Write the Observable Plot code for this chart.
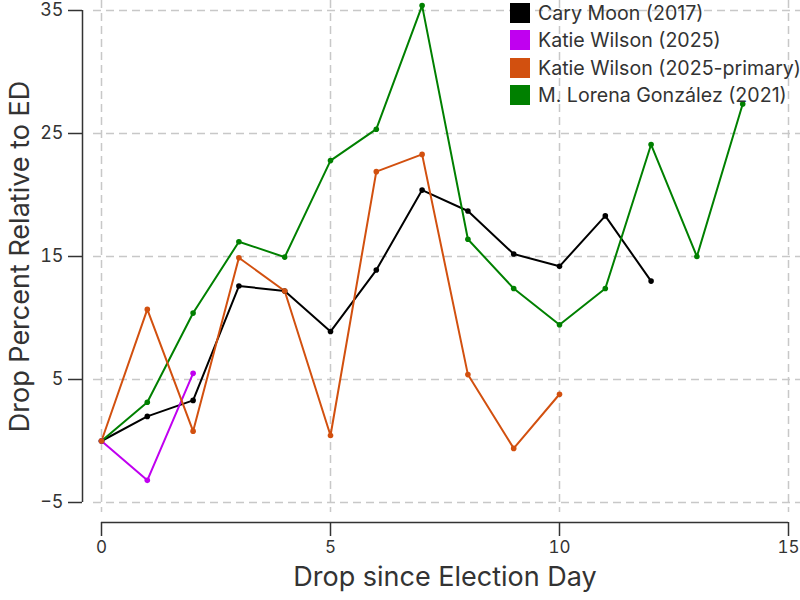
<!DOCTYPE html>
<html>
<head>
<meta charset="utf-8">
<script src="https://cdn.jsdelivr.net/npm/d3@7"></script>
<script src="https://cdn.jsdelivr.net/npm/@observablehq/plot@0.6"></script>
<style>
  html, body { margin: 0; padding: 0; background: #fff; }
  #wrap { position: relative; width: 800px; height: 600px; font-family: Inter, "DejaVu Sans", sans-serif; }
  #legend { position: absolute; left: 510px; top: -1px; }
  .row { display: flex; align-items: center; height: 27.5px; white-space: nowrap; }
  .sw { width: 20px; height: 20px; margin-right: 8px; flex: none; }
  .lab { font-size: 19.6px; color: #333; line-height: 20px; }
</style>
</head>
<body>
<div id="wrap"><div id="legend"></div></div>
<script>
// ---- data ----
const seriesNames = ["Cary Moon (2017)", "Katie Wilson (2025)", "Katie Wilson (2025-primary)", "M. Lorena González (2021)"];
const seriesColors = ["#000000", "#c000f0", "#d2500f", "#008000"];
const drawOrder = ["Cary Moon (2017)", "M. Lorena González (2021)", "Katie Wilson (2025)", "Katie Wilson (2025-primary)"];

const caryMoon = [0, 2.0, 3.3, 12.6, 12.2, 8.9, 13.9, 20.4, 18.7, 15.2, 14.2, 18.3, 13.0];
const katieWilson = [0, -3.2, 5.5];
const katieWilsonPrimary = [0, 10.7, 0.8, 14.9, 12.2, 0.45, 21.9, 23.3, 5.4, -0.6, 3.8];
const lorenaGonzalez = [0, 3.15, 10.4, 16.2, 14.95, 22.8, 25.35, 35.4, 16.4, 12.4, 9.45, 12.4, 24.1, 15.0, 27.4];

const xDomain = [0, 15];
const yDomain = [-5, 35];
const xTicks = [0, 5, 10, 15];
const yTicks = [-5, 5, 15, 25, 35];
const xTitle = "Drop since Election Day";
const yTitle = "Drop Percent Relative to ED";

// ---- build table ----
const valuesBySeries = {
  "Cary Moon (2017)": caryMoon,
  "Katie Wilson (2025)": katieWilson,
  "Katie Wilson (2025-primary)": katieWilsonPrimary,
  "M. Lorena González (2021)": lorenaGonzalez
};
const rows = [];
for (const s of drawOrder) valuesBySeries[s].forEach((v, i) => rows.push({series: s, day: i, value: v}));

const gridStyle = {stroke: "#c8c8c8", strokeOpacity: 1, strokeWidth: 1.5, strokeDasharray: "8,5"};

const chart = Plot.plot({
  width: 800,
  height: 600,
  marginLeft: 101,
  marginRight: 12,
  marginTop: 10,
  marginBottom: 98,
  style: {fontFamily: "Inter, sans-serif", color: "#333", background: "#fff", overflow: "visible"},
  x: {domain: xDomain, axis: null},
  y: {domain: yDomain, axis: null},
  color: {domain: seriesNames, range: seriesColors},
  marks: [
    Plot.gridX(xTicks, {...gridStyle, insetTop: -10, insetBottom: -10}),
    Plot.gridY(yTicks, {...gridStyle, insetLeft: -8, insetRight: -12}),
    Plot.axisY(yTicks, {anchor: "left", dx: -19, tickSize: 14, tickPadding: 5, fontSize: 18, strokeWidth: 1.5, label: null}),
    Plot.axisX(xTicks, {anchor: "bottom", dy: 20, tickSize: 14, tickPadding: 4, fontSize: 17, strokeWidth: 1.5, label: null}),
    Plot.ruleX([xDomain[0]], {y1: yDomain[0], y2: yDomain[1], dx: -19, stroke: "#333", strokeWidth: 1.5}),
    Plot.ruleY([yDomain[0]], {x1: xDomain[0], x2: xDomain[1], dy: 20, stroke: "#333", strokeWidth: 1.5}),
    Plot.line(rows, {x: "day", y: "value", z: "series", stroke: "series", strokeWidth: 2}),
    Plot.dot(rows, {x: "day", y: "value", fill: "series", r: 2.8}),
    Plot.text([xTitle], {frameAnchor: "bottom", dy: 83, fontSize: 27, fill: "#333"}),
    Plot.text([yTitle], {frameAnchor: "left", textAnchor: "middle", dx: -81, rotate: -90, fontSize: 27, fill: "#333"})
  ]
});
document.getElementById("wrap").prepend(chart);

// legend
const legend = d3.select("#legend");
seriesNames.forEach((s, i) => {
  const r = legend.append("div").attr("class", "row");
  r.append("div").attr("class", "sw").style("background", seriesColors[i]);
  r.append("div").attr("class", "lab").text(s);
});
</script>
</body>
</html>
